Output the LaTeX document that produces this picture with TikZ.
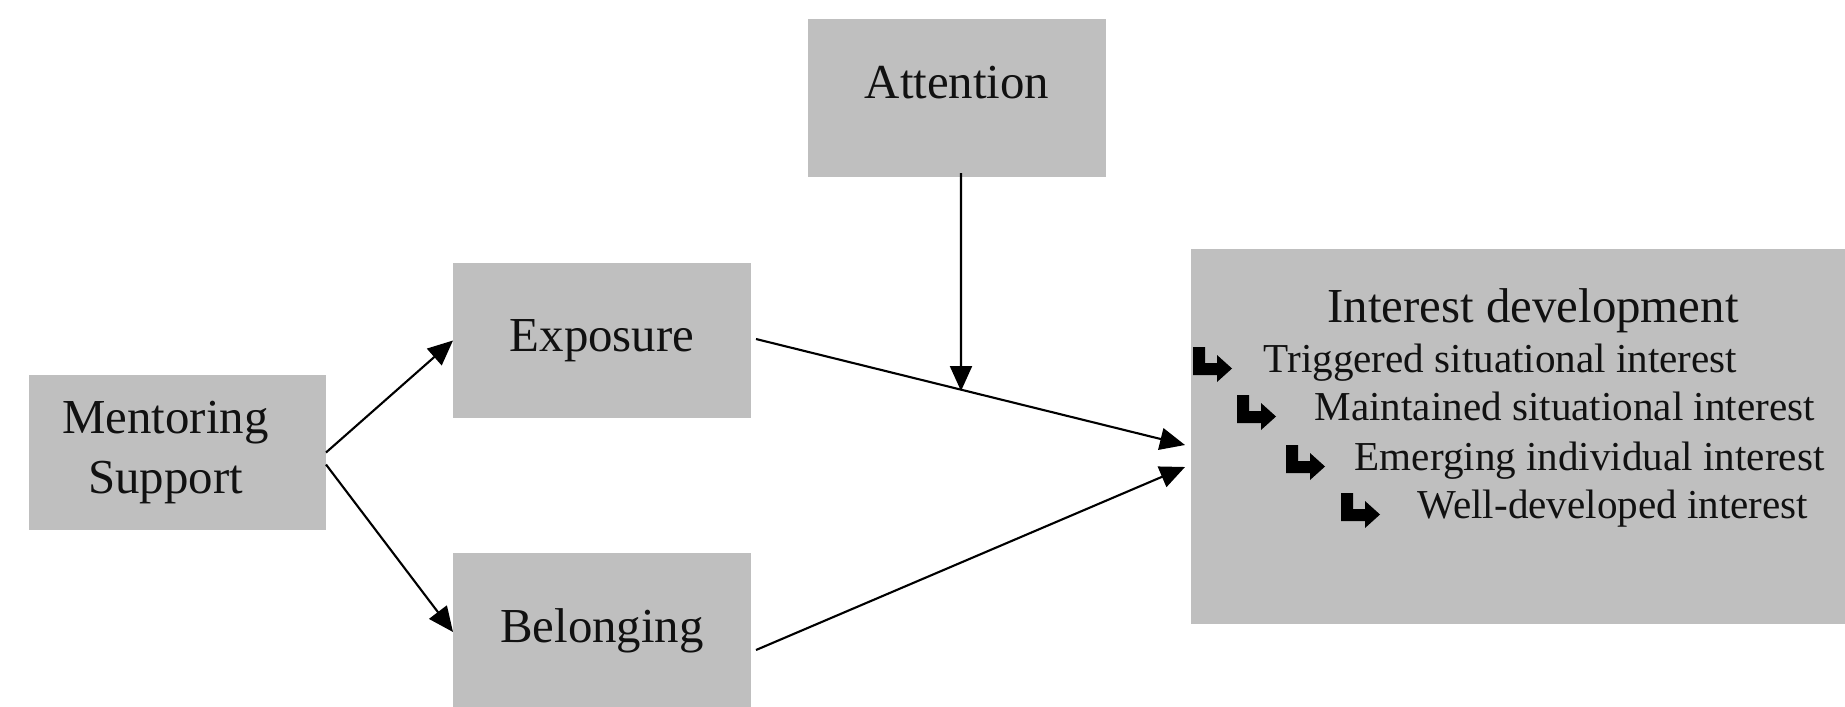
\documentclass[tikz,border=0pt]{standalone}
\usepackage{fontspec}
\setmainfont{Liberation Serif}
\usepackage{tikz}
\usetikzlibrary{arrows.meta}
\definecolor{boxgray}{HTML}{BFBFBF}
\definecolor{textblack}{HTML}{111111}

\begin{document}
\begin{tikzpicture}[
    box/.style={fill=boxgray, draw=none, inner sep=0pt, outer sep=0pt, align=center,
      text=textblack, font=\fontsize{13.9}{16.8}\selectfont},
    conn/.style={-{Triangle[length=0.25cm, width=0.22cm]}, line width=0.6pt},
    item/.style={anchor=base west, inner sep=0pt, text=textblack, font=\fontsize{11.7}{14}\selectfont},
    bent/.pic={\fill (0,0.25) -- (0.12,0.25) -- (0.12,0.09) -- (0.24,0.09) -- (0.24,0.17)
      -- (0.39,0.035) -- (0.24,-0.10) -- (0.24,-0.03) -- (0,-0.03) -- cycle;}
  ]
  \useasboundingbox (0,0) rectangle (18.45,7.06);

  % boxes
  \node[box, minimum width=2.97cm, minimum height=1.55cm,
    label={[box, fill=none, xshift=-0.12cm]center:{Mentoring\\Support}}] (ment) at (1.775,2.535) {};
  \node[box, minimum width=2.98cm, minimum height=1.55cm] (expo) at (6.02,3.655) {Exposure};
  \node[box, minimum width=2.98cm, minimum height=1.55cm] (belo) at (6.02,0.755) {Belonging};
  \node[box, minimum width=2.98cm, minimum height=1.58cm, text height=0.33cm, text depth=0.33cm] (atte) at (9.57,6.08) {Attention};
  \node[box, minimum width=6.59cm, minimum height=3.75cm] (intr) at (15.205,2.695) {};

  % interest development stages
  \node[box, fill=none, anchor=base] (intr-head) at (15.33,3.84) {Interest development};
  \foreach \ax/\tx/\by/\name/\txt in {
      11.93/12.63/3.34/trig/{Triggered situational interest},
      12.37/13.14/2.86/main/{Maintained situational interest},
      12.86/13.54/2.36/emer/{Emerging individual interest},
      13.41/14.17/1.88/well/{Well-developed interest}} {
    \pic at (\ax,\by) {bent};
    \node[item] (\name) at (\tx,\by) {\txt};
  }

  % connectors
  \coordinate (hit) at (9.61,3.15);
  \draw[conn] (ment.east) -- (expo.west);
  \draw[conn] ([yshift=-0.12cm]ment.east) -- ([yshift=-0.015cm]belo.west);
  \draw[conn] ([xshift=0.05cm, yshift=0.015cm]expo.east) -- ([xshift=-0.06cm, yshift=-0.085cm]intr.west);
  \draw[conn] ([xshift=0.05cm, yshift=-0.195cm]belo.east) -- ([xshift=-0.06cm, yshift=-0.305cm]intr.west);
  \draw[conn] ([xshift=0.04cm, yshift=0.04cm]atte.south) -- (hit);
\end{tikzpicture}
\end{document}
